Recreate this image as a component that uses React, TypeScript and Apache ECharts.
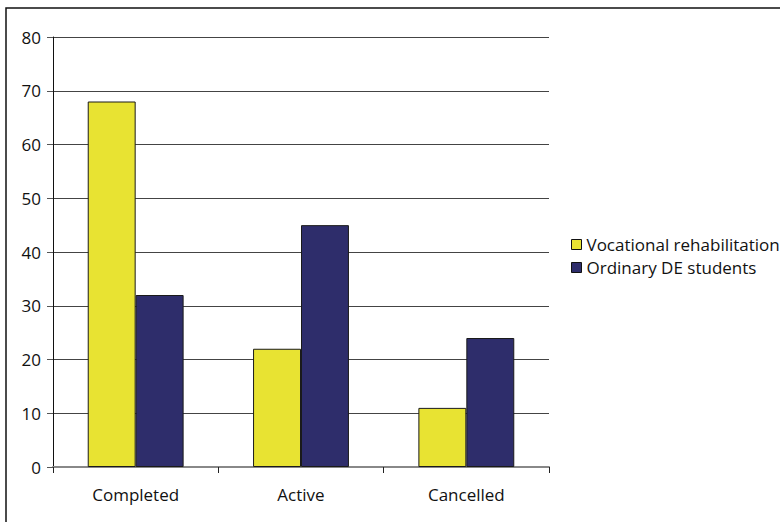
import React, { useEffect, useRef } from "react";
import * as echarts from "echarts";

const categories = ["Completed", "Active", "Cancelled"];
const vocational = [68, 22, 11];
const ordinary = [32, 45, 24];
const seriesNames = ["Vocational rehabilitation", "Ordinary DE students"];

const FONT = "Open Sans";

export default function App() {
  const ref = useRef<HTMLDivElement>(null);
  useEffect(() => {
    if (!ref.current) return;
    const chart = echarts.init(ref.current, undefined, { renderer: "svg" });
    chart.setOption({
      animation: false,
      backgroundColor: "#ffffff",
      textStyle: { fontFamily: FONT },
      graphic: [
        {
          type: "rect",
          shape: { x: 6, y: 8, width: 800, height: 600 },
          style: { fill: "none", stroke: "#111", lineWidth: 1.5 },
          silent: true,
        },
      ],
      grid: { left: 53, right: 231, top: 37, bottom: 55, containLabel: false },
      legend: {
        orient: "vertical",
        left: 566,
        top: 231,
        itemWidth: 10,
        itemHeight: 10,
        itemGap: 6,
        itemStyle: { borderColor: "#111", borderWidth: 1 },
        icon: "rect",
        textStyle: { fontFamily: FONT, fontSize: 17, color: "#111", lineHeight: 17 },
        data: seriesNames,
      },
      xAxis: {
        type: "category",
        data: categories,
        axisLine: { lineStyle: { color: "#888", width: 2 } },
        axisTick: { show: true, length: 6, lineStyle: { color: "#222" } },
        axisLabel: { color: "#111", fontSize: 17, fontFamily: FONT, margin: 19 },
      },
      yAxis: {
        type: "value",
        min: 0,
        max: 80,
        interval: 10,
        axisLine: { show: true, lineStyle: { color: "#111", width: 1 } },
        axisTick: { show: true, length: 6, lineStyle: { color: "#555" } },
        axisLabel: { color: "#111", fontSize: 17, fontFamily: FONT, margin: 12 },
        splitLine: { lineStyle: { color: "#444", width: 1 } },
      },
      series: [
        {
          name: seriesNames[0],
          type: "bar",
          data: vocational,
          barGap: "0%",
          barCategoryGap: "42%",
          itemStyle: { color: "#E8E332", borderColor: "#1a1a1a", borderWidth: 1 },
        },
        {
          name: seriesNames[1],
          type: "bar",
          data: ordinary,
          itemStyle: { color: "#2E2D6B", borderColor: "#1a1a1a", borderWidth: 1 },
        },
      ],
    });
    return () => chart.dispose();
  }, []);
  return (
    <div
      ref={ref}
      style={{ position: "fixed", left: 0, top: 0, width: 780, height: 522 }}
    />
  );
}
